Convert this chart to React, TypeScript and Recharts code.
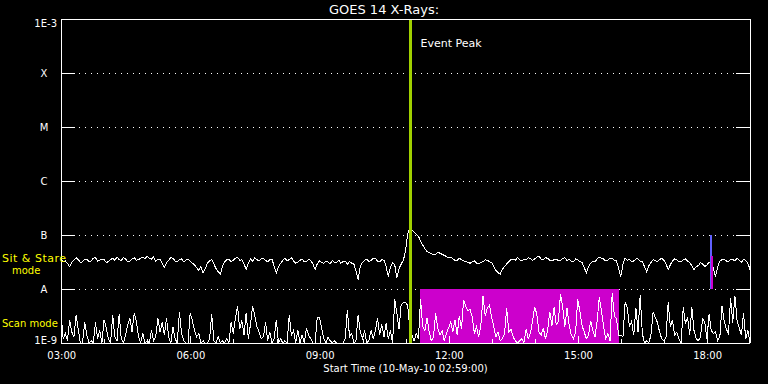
import React from 'react';
import {
    LineChart,
    Line,
    XAxis,
    YAxis,
    CartesianGrid,
    ReferenceLine,
    ReferenceArea
} from 'recharts';

// time axis in decimal hours, plot starts at 02:59
const startHour = 2.983;
const endHour = 18.983;

// sit & stare channel, sampled every 0.05 h, values in units of 1e-8 W/m2
const sitStareStep = 0.05;
const sitStareFlux = [
    3.7, 3.2, 3.3, 3.0, 2.6, 3.1, 3.4, 3.8, 3.5, 3.1, 3.2, 3.5, 3.6, 3.2, 3.3, 3.7, 3.8, 3.3, 3.4, 3.6,
    3.5, 3.1, 3.2, 3.5, 3.7, 3.4, 3.9, 3.5, 3.4, 3.8, 3.6, 3.2, 3.3, 3.6, 3.8, 3.4, 3.5, 3.7, 3.9, 3.6,
    4.1, 3.7, 3.6, 3.9, 3.3, 3.6, 3.5, 3.0, 2.5, 3.1, 3.4, 3.8, 3.7, 3.3, 3.2, 3.5, 3.6, 3.2, 3.4, 3.6,
    3.3, 3.0, 2.8, 2.5, 2.2, 2.6, 2.0, 2.4, 3.0, 3.3, 3.5, 2.9, 2.4, 2.1, 1.9, 2.6, 3.2, 3.5, 3.6, 3.2,
    3.4, 3.7, 3.9, 3.4, 3.5, 2.9, 2.3, 3.0, 3.6, 3.3, 3.8, 3.5, 3.3, 3.6, 3.7, 3.4, 3.2, 3.5, 3.6, 2.6,
    2.0, 2.6, 3.0, 3.4, 3.7, 3.3, 3.5, 3.8, 3.3, 3.0, 3.1, 3.4, 3.6, 3.2, 3.2, 3.5, 3.4, 2.9, 2.3, 2.9,
    3.3, 3.1, 3.0, 3.3, 3.2, 2.9, 3.4, 3.1, 3.1, 3.4, 3.0, 3.2, 3.3, 2.9, 3.2, 3.0, 2.9, 2.2, 1.5, 2.6,
    3.1, 3.4, 3.6, 3.2, 3.4, 3.7, 3.7, 3.3, 3.2, 3.5, 3.4, 2.6, 1.7, 2.5, 3.1, 2.8, 1.6, 2.4, 2.9, 3.4,
    5.0, 10.5, 13.5, 12.4, 11.2, 10.2, 9.5, 7.8, 6.5, 5.6, 4.9, 4.7, 4.5, 4.3, 4.4, 4.8, 4.6, 4.4, 4.2, 4.0,
    3.8, 3.9, 3.6, 3.4, 3.4, 3.7, 3.5, 3.3, 3.2, 3.1, 3.0, 3.2, 3.3, 3.0, 2.9, 3.1, 3.2, 3.5, 3.4, 3.2,
    3.1, 2.6, 2.2, 2.0, 1.9, 2.3, 2.6, 2.9, 3.2, 3.5, 3.6, 3.4, 3.8, 3.5, 3.3, 3.6, 3.5, 3.8, 3.7, 3.4,
    3.6, 3.9, 4.0, 3.6, 3.5, 3.8, 3.7, 3.4, 3.3, 3.5, 3.6, 3.3, 3.4, 3.7, 3.8, 3.4, 3.5, 3.3, 3.2, 3.6,
    3.5, 3.2, 3.1, 2.5, 2.0, 2.6, 3.0, 3.3, 3.2, 3.6, 3.9, 3.7, 3.6, 3.3, 3.4, 3.7, 3.7, 3.4, 3.3, 2.4,
    1.7, 2.9, 3.7, 3.4, 3.5, 3.2, 3.3, 3.6, 3.6, 3.3, 3.2, 2.6, 2.1, 2.7, 3.1, 3.5, 3.4, 3.2, 3.5, 3.7,
    3.4, 2.9, 2.3, 2.8, 3.3, 3.6, 3.5, 3.2, 3.2, 3.5, 3.6, 3.3, 3.1, 2.7, 2.3, 2.6, 2.7, 3.1, 2.9, 2.6,
    2.8, 3.1, 3.2, 2.4, 1.7, 2.6, 3.3, 3.5, 3.6, 3.3, 3.2, 3.5, 3.5, 3.3, 3.7, 3.4, 3.1, 3.5, 3.4, 3.0,
    2.3
];

// scan mode channel, sampled every 0.05 h, values in units of 1e-9 W/m2
const scanStep = 0.05;
const scanFlux = [
    3.6, 1.2, 1.5, 1.1, 2.7, 1.6, 1.3, 3.3, 1.8, 1.0,
    1.0, 2.4, 1.4, 1.0, 1.1, 1.0, 2.4, 1.2, 1.7, 1.0,
    2.7, 1.9, 1.2, 1.0, 3.3, 1.3, 1.1, 3.4, 1.2, 1.0,
    1.4, 2.2, 2.9, 1.6, 3.6, 2.5, 1.3, 1.0, 1.5, 1.0,
    1.1, 1.0, 1.7, 1.1, 1.3, 2.9, 1.6, 2.4, 1.4, 2.9,
    1.3, 1.0, 2.0, 1.2, 1.0, 3.8, 1.5, 1.1, 1.0, 1.0,
    3.6, 2.6, 1.7, 1.3, 1.5, 1.0, 1.1, 1.0, 1.0, 1.2,
    3.4, 1.1, 1.0, 1.3, 1.0, 1.1, 1.0, 1.2, 1.0, 2.4,
    1.5, 2.9, 4.8, 1.8, 2.6, 1.4, 3.6, 1.2, 2.2, 4.8,
    3.2, 2.0, 1.6, 1.2, 1.3, 2.4, 1.1, 1.6, 1.0, 1.2,
    2.7, 1.0, 1.2, 1.0, 1.1, 1.0, 3.3, 1.4, 1.7, 1.0,
    1.7, 1.0, 1.4, 1.0, 1.9, 1.4, 1.2, 1.0, 1.0, 3.0,
    3.0, 1.9, 1.2, 1.0, 1.3, 1.1, 1.0, 1.1, 1.0, 1.0,
    1.0, 1.0, 1.2, 4.1, 1.3, 1.5, 1.0, 1.1, 3.3, 1.6,
    1.2, 1.7, 1.0, 1.1, 1.7, 1.2, 1.7, 2.9, 1.4, 2.2,
    1.3, 2.3, 1.2, 1.7, 1.0, 6.5, 3.5, 1.8, 5.2, 5.5,
    5.6, 5.0, 1.8, 1.4, 1.1, 1.5, 1.2, 6.5, 2.0, 1.7,
    2.9, 1.6, 1.1, 1.3, 3.6, 1.9, 1.4, 1.7, 1.1, 1.5,
    1.9, 2.5, 1.6, 2.7, 1.4, 3.2, 1.8, 6.2, 4.8, 3.9,
    4.2, 3.0, 1.5, 2.0, 1.3, 2.1, 7.4, 3.2, 4.4, 5.0,
    3.0, 2.0, 1.3, 1.6, 1.1, 1.2, 1.5, 4.4, 1.6, 1.8,
    1.3, 1.1, 1.0, 1.1, 1.2, 1.0, 1.8, 1.2, 1.5, 2.6,
    4.6, 3.4, 1.6, 1.4, 1.9, 1.2, 1.7, 3.8, 2.1, 4.6,
    2.2, 2.5, 8.1, 4.6, 2.0, 4.4, 2.2, 1.4, 1.2, 1.6,
    6.5, 3.8, 2.1, 1.6, 1.2, 1.4, 2.6, 1.7, 1.3, 2.5,
    7.1, 4.0, 2.0, 1.2, 1.5, 1.1, 8.4, 3.2, 2.8, 1.4,
    1.4, 1.3, 5.7, 4.5, 2.0, 2.5, 1.4, 4.5, 1.6, 7.7,
    1.5, 1.0, 1.1, 1.0, 1.4, 3.8, 3.0, 2.4, 1.6, 1.2,
    1.1, 1.3, 5.7, 2.0, 2.7, 1.4, 1.6, 1.2, 1.0, 4.6,
    2.3, 3.0, 1.4, 4.6, 1.7, 1.2, 1.1, 1.3, 2.8, 2.4,
    1.2, 3.4, 1.7, 1.5, 1.6, 1.1, 1.3, 4.8, 2.6, 1.8,
    1.5, 6.8, 2.4, 7.4, 2.6, 1.9, 1.4, 3.6, 1.2, 1.7, 1.0
];

// axis ticks and labels
const fluxTicks = [1e-9, 1e-8, 1e-7, 1e-6, 1e-5, 1e-4, 1e-3];
const fluxLabels = ['1E-9', 'A', 'B', 'C', 'M', 'X', '1E-3'];
const hourTicks = [3, 4, 5, 6, 7, 8, 9, 10, 11, 12, 13, 14, 15, 16, 17, 18];
const majorHours = [3, 6, 9, 12, 15, 18];
const timeLabels = ['03:00', '06:00', '09:00', '12:00', '15:00', '18:00'];

// annotations
const eventPeakHour = 11.1;
const scanModeSpan = [11.32, 15.93];
const blueMarkHour = 18.07;
const magentaMarkHour = 18.11;

const sitStareData = sitStareFlux.map((v, i) => ({ t: startHour + i * sitStareStep, flux: v * 1e-8 }));
const scanData = scanFlux.map((v, i) => ({ t: startHour + i * scanStep, flux: v * 1e-9 }));

const FONT = '"DejaVu Sans", sans-serif';

const fluxIndex = (value: number) =>
    fluxTicks.findIndex((t) => Math.abs(Math.log10(t) - Math.log10(value)) < 0.01);

// left ticks: tick line drawn by recharts (inward, 14px), label placed here
const LeftTick = (props: any) => {
    const { x, y, payload } = props;
    const idx = fluxIndex(payload.value);
    const edge = idx === 0 || idx === fluxTicks.length - 1;
    const dy = idx === fluxTicks.length - 1 ? 8 : idx === 0 ? 1 : 4;
    return (
        <text
            x={edge ? x - 18 : x - 31}
            y={y + dy}
            textAnchor={edge ? 'end' : 'middle'}
            fill="#fff"
            fontSize={10}
            fontFamily={FONT}
        >
            {fluxLabels[idx]}
        </text>
    );
};

const NoLabel = () => <g />;

// dotted grid line with a solid 14px stub at each end (IDL style major ticks)
const GridLine = (props: any) => {
    const { x1, x2, y1, index } = props;
    return (
        <g key={`grid-${index}`}>
            <line x1={x1} x2={x2} y1={y1} y2={y1} stroke="#fff" strokeDasharray="1 5" />
            <line x1={x1} x2={x1 + 14} y1={y1} y2={y1} stroke="#fff" />
            <line x1={x2 - 14} x2={x2} y1={y1} y2={y1} stroke="#fff" />
        </g>
    );
};

const TopTick = (props: any) => {
    const { x, y, payload } = props;
    const len = majorHours.includes(payload.value) ? 7 : 4;
    return <line x1={x} x2={x} y1={y} y2={y + len} stroke="#fff" strokeWidth={1} />;
};

const BottomTick = (props: any) => {
    const { x, y, payload } = props;
    const m = majorHours.indexOf(payload.value);
    const len = m >= 0 ? 7 : 4;
    return (
        <g>
            <line x1={x} x2={x} y1={y} y2={y - len} stroke="#fff" strokeWidth={1} />
            {m >= 0 && (
                <text x={x} y={y + 16} textAnchor="middle" fill="#fff" fontSize={10} fontFamily={FONT}>
                    {timeLabels[m]}
                </text>
            )}
        </g>
    );
};

const overlayText: React.CSSProperties = {
    position: 'absolute',
    fontFamily: FONT,
    whiteSpace: 'nowrap',
    lineHeight: '12px'
};

const App = () => {
    return (
        <div
            style={{
                position: 'absolute',
                left: 0,
                top: 0,
                width: 768,
                height: 384,
                background: '#000',
                overflow: 'hidden',
                shapeRendering: 'crispEdges'
            }}
        >
            <LineChart width={768} height={384} margin={{ top: 0, right: 0, bottom: 0, left: 0 }}>
                <CartesianGrid horizontal={<GridLine />} vertical={false} />

                <XAxis
                    type="number"
                    dataKey="t"
                    domain={[startHour, endHour]}
                    allowDataOverflow
                    ticks={hourTicks}
                    interval={0}
                    height={41}
                    tickSize={0}
                    tickMargin={0}
                    tickLine={false}
                    tick={<BottomTick />}
                    stroke="#fff"
                    label={{ value: 'Start Time (10-May-10 02:59:00)', position: 'insideBottom', offset: 12, fill: '#fff', fontSize: 10, fontFamily: FONT }}
                />
                <XAxis
                    xAxisId="top"
                    orientation="top"
                    type="number"
                    domain={[startHour, endHour]}
                    allowDataOverflow
                    ticks={hourTicks}
                    interval={0}
                    height={19}
                    tickSize={0}
                    tickMargin={0}
                    tickLine={false}
                    tick={<TopTick />}
                    stroke="#fff"
                />
                <YAxis
                    scale="log"
                    domain={[1e-9, 1e-3]}
                    allowDataOverflow
                    ticks={fluxTicks}
                    interval={0}
                    width={61}
                    tickSize={-14}
                    tickMargin={0}
                    tickLine={{ stroke: '#fff' }}
                    tick={<LeftTick />}
                    stroke="#fff"
                />
                <YAxis
                    yAxisId="right"
                    orientation="right"
                    scale="log"
                    domain={[1e-9, 1e-3]}
                    allowDataOverflow
                    ticks={fluxTicks}
                    interval={0}
                    width={18}
                    tickSize={-14}
                    tickMargin={0}
                    tickLine={{ stroke: '#fff' }}
                    tick={<NoLabel />}
                    stroke="#fff"
                />

                <ReferenceArea
                    x1={scanModeSpan[0]}
                    x2={scanModeSpan[1]}
                    y1={1e-9}
                    y2={1e-8}
                    fill="#cc00cc"
                    fillOpacity={1}
                    stroke="none"
                />

                <Line data={sitStareData} dataKey="flux" type="linear" stroke="#fff" strokeWidth={1} dot={false} isAnimationActive={false} />
                <Line data={scanData} dataKey="flux" type="linear" stroke="#fff" strokeWidth={1} dot={false} isAnimationActive={false} />

                <ReferenceLine
                    x={eventPeakHour}
                    stroke="#a0d000"
                    strokeWidth={3}
                    label={(p: any) => (
                        <text x={p.viewBox.x + 10} y={p.viewBox.y + 28} fill="#fff" fontSize={11} fontFamily={FONT}>
                            Event Peak
                        </text>
                    )}
                />
                <ReferenceLine
                    segment={[{ x: blueMarkHour, y: 1e-8 }, { x: blueMarkHour, y: 1e-7 }]}
                    stroke="#6060ff"
                    strokeWidth={2}
                />
                <ReferenceLine
                    segment={[{ x: magentaMarkHour, y: 1e-8 }, { x: magentaMarkHour, y: 4.1e-8 }]}
                    stroke="#cc00cc"
                    strokeWidth={2}
                />
            </LineChart>

            <div style={{ ...overlayText, left: 0, width: 768, top: 2, textAlign: 'center', color: '#fff', fontSize: 13, lineHeight: '16px' }}>
                GOES 14 X-Rays:
            </div>
            <div style={{ ...overlayText, left: 2, top: 253, color: '#ffff00', fontSize: 11, letterSpacing: 0.5 }}>Sit &amp; Stare</div>
            <div style={{ ...overlayText, left: 12, top: 265, color: '#ffff00', fontSize: 10 }}>mode</div>
            <div style={{ ...overlayText, left: 2, top: 318, color: '#ffff00', fontSize: 10 }}>Scan mode</div>
        </div>
    );
};

export default App;
